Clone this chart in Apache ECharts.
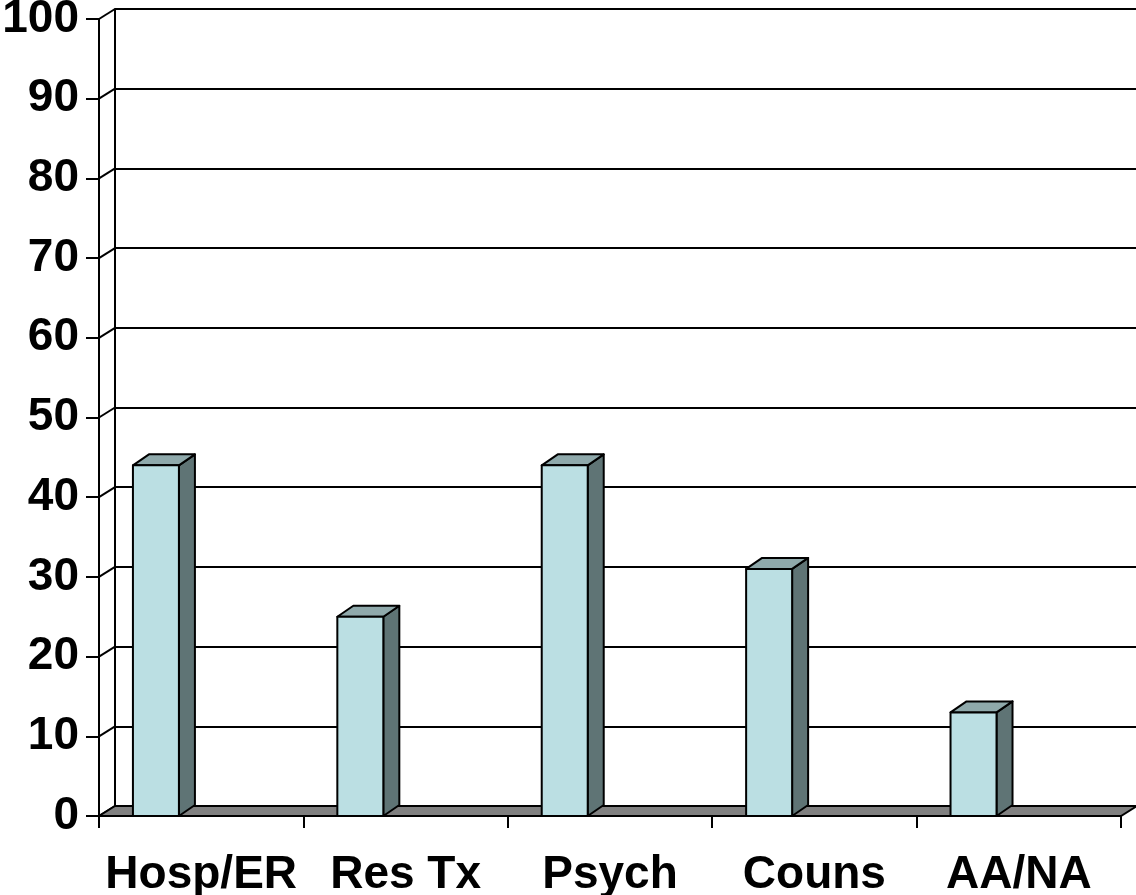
<!DOCTYPE html>
<html>
<head>
<meta charset="utf-8">
<script src="https://cdn.jsdelivr.net/npm/echarts@6/dist/echarts.min.js"></script>
<style>
  html, body { margin: 0; padding: 0; background: #fff; }
  #chart { width: 1136px; height: 895px; }
</style>
</head>
<body>
<div id="chart"></div>
<script>
// Categories and percentages
const categories = ['Hosp/ER', 'Res Tx', 'Psych', 'Couns', 'AA/NA'];
const values = [44, 25, 44, 31, 13];
const yTicks = [0, 10, 20, 30, 40, 50, 60, 70, 80, 90, 100];

// 3-D look: offset of the back wall and of the bar depth, in pixels
const WALL_DX = 16, WALL_DY = 10;
const BAR_DX = 16, BAR_DY = 11;
const FRONT = '#bbdfe3', TOP = '#8fa9ab', SIDE = '#5f7475', FLOOR = '#808080';
const FONT = { fontFamily: '"Liberation Sans", Arial, sans-serif', fontWeight: 'bold', fontSize: 46, color: '#000' };

const chart = echarts.init(document.getElementById('chart'), null, { renderer: 'canvas' });

const yMin = yTicks[0], yMax = yTicks[yTicks.length - 1], yStep = yTicks[1] - yTicks[0];

chart.setOption({
  animation: false,
  backgroundColor: '#fff',
  grid: [
    // front plane (axes, labels, bars)
    { left: 99, right: 15, top: 19, bottom: 79, containLabel: false, outerBoundsMode: 'none' },
    // back wall (gridlines)
    { left: 99 + WALL_DX, right: 15 - WALL_DX, top: 19 - WALL_DY, bottom: 79 + WALL_DY, containLabel: false, outerBoundsMode: 'none' }
  ],
  xAxis: [
    {
      type: 'category', gridIndex: 0, data: categories, boundaryGap: true,
      axisLine: { show: true, lineStyle: { color: '#000', width: 2 } },
      axisTick: { show: true, length: 12, lineStyle: { color: '#000', width: 2 } },
      axisLabel: Object.assign({ margin: 36, interval: 0 }, FONT),
      splitLine: { show: false }
    },
    { type: 'value', gridIndex: 1, show: false, min: 0, max: 1 }
  ],
  yAxis: [
    {
      type: 'value', gridIndex: 0, min: yMin, max: yMax, interval: yStep,
      axisLine: { show: true, lineStyle: { color: '#000', width: 2 } },
      axisTick: { show: true, length: 13, lineStyle: { color: '#000', width: 2 } },
      axisLabel: Object.assign({ margin: 20, padding: [4, 0, 0, 0] }, FONT),
      splitLine: { show: false }
    },
    {
      type: 'value', gridIndex: 1, min: yMin, max: yMax, interval: yStep,
      axisLine: { show: true, lineStyle: { color: '#000', width: 2 } },
      axisTick: { show: false },
      axisLabel: { show: false },
      splitLine: { show: true, lineStyle: { color: '#000', width: 2 } }
    }
  ],
  series: [
    {
      // diagonal links from the front axis ticks to the back wall
      type: 'custom', xAxisIndex: 0, yAxisIndex: 0, z: 2, clip: false, silent: true,
      data: yTicks.map(v => [0, v]),
      renderItem(params, api) {
        const cs = params.coordSys;
        const y = api.coord([0, api.value(1)])[1];
        return {
          type: 'line',
          shape: { x1: cs.x, y1: y, x2: cs.x + WALL_DX, y2: y - WALL_DY },
          style: { stroke: '#000', lineWidth: 2 }
        };
      }
    },
    {
      // floor slab
      type: 'custom', xAxisIndex: 0, yAxisIndex: 0, z: 3, clip: false, silent: true,
      data: [[0, 0]],
      renderItem(params, api) {
        const cs = params.coordSys;
        const y = api.coord([0, 0])[1];
        const x0 = cs.x, x1 = cs.x + cs.width;
        return {
          type: 'polygon',
          shape: { points: [[x0, y], [x1, y], [x1 + WALL_DX, y - WALL_DY], [x0 + WALL_DX, y - WALL_DY]] },
          style: { fill: FLOOR, stroke: '#000', lineWidth: 2 }
        };
      }
    },
    {
      // 3-D columns
      type: 'custom', xAxisIndex: 0, yAxisIndex: 0, z: 4, clip: false,
      data: values.map((v, i) => [i, v]),
      renderItem(params, api) {
        const i = api.value(0), v = api.value(1);
        const topPt = api.coord([i, v]);
        const basePt = api.coord([i, 0]);
        const w = api.size([1, 0])[0];
        const left = topPt[0] - 0.334 * w;
        const bw = 0.225 * w;
        const top = topPt[1], bottom = basePt[1];
        const right = left + bw;
        const stroke = { stroke: '#000', lineWidth: 2, lineJoin: 'round' };
        return {
          type: 'group',
          children: [
            {
              type: 'polygon',
              shape: { points: [[right, top], [right + BAR_DX, top - BAR_DY], [right + BAR_DX, bottom - BAR_DY], [right, bottom]] },
              style: Object.assign({ fill: SIDE }, stroke)
            },
            {
              type: 'polygon',
              shape: { points: [[left, top], [right, top], [right + BAR_DX, top - BAR_DY], [left + BAR_DX, top - BAR_DY]] },
              style: Object.assign({ fill: TOP }, stroke)
            },
            {
              type: 'rect',
              shape: { x: left, y: top, width: bw, height: bottom - top },
              style: Object.assign({ fill: FRONT }, stroke)
            }
          ]
        };
      }
    }
  ]
});
</script>
</body>
</html>
